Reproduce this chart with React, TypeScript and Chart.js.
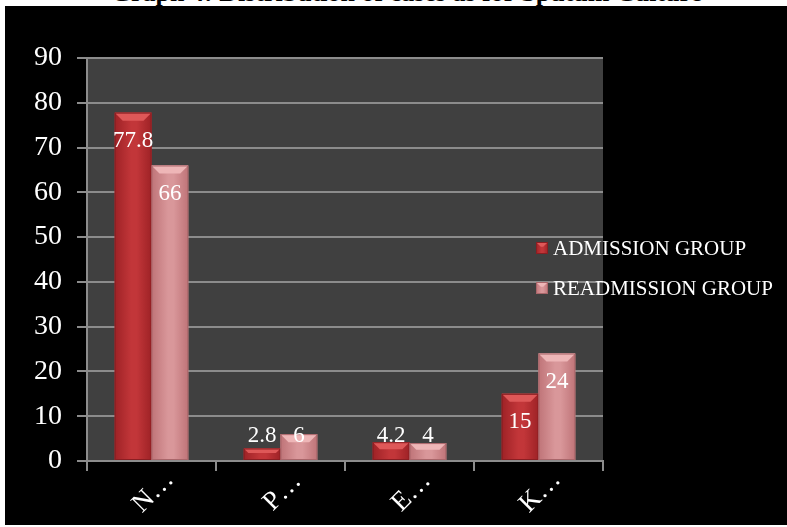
import React, { useEffect, useRef } from 'react';
import { Chart, registerables } from 'chart.js';

Chart.register(...registerables);

const titleText = 'Graph 4: Distribution of cases as for Sputum Culture';
const categories = ['N…', 'P…', 'E…', 'K…'];
const seriesNames = ['ADMISSION GROUP', 'READMISSION GROUP'];
const admission = [77.8, 2.8, 4.2, 15];
const readmission = [66, 6, 4, 24];
const yMax = 90;
const yStep = 10;

const FONT = "'Liberation Serif', 'Times New Roman', serif";
const GRID = '#8c8c8c';

const palettes = [
  { edge: '#9e2226', mid: '#c23639', top: '#de5858', border: '#8a1e22' },
  { edge: '#bf7478', mid: '#d9979a', top: '#eeb6b7', border: '#a9666a' },
];

function shadeBar(ctx: CanvasRenderingContext2D, x: number, y: number, base: number, w: number, p: any) {
  const left = x - w / 2;
  const right = x + w / 2;
  const top = Math.min(y, base);
  const h = Math.abs(base - y);
  if (h <= 0) return;
  const g = ctx.createLinearGradient(left, 0, right, 0);
  g.addColorStop(0, p.edge);
  g.addColorStop(0.45, p.mid);
  g.addColorStop(0.6, p.mid);
  g.addColorStop(1, p.edge);
  ctx.fillStyle = g;
  ctx.fillRect(left, top, w, h);
  const b = Math.min(8, h * 0.4);
  ctx.fillStyle = p.top;
  ctx.beginPath();
  ctx.moveTo(left, top);
  ctx.lineTo(right, top);
  ctx.lineTo(right - b, top + b);
  ctx.lineTo(left + b, top + b);
  ctx.closePath();
  ctx.fill();
  ctx.strokeStyle = p.border;
  ctx.lineWidth = 1;
  ctx.strokeRect(left + 0.5, top + 0.5, w - 1, h - 1);
}

const decor = {
  id: 'decor',
  beforeDraw(chart: any) {
    const { ctx, chartArea: a } = chart;
    ctx.save();
    ctx.fillStyle = '#404040';
    ctx.fillRect(a.left, a.top, a.right - a.left, a.bottom - a.top);
    ctx.restore();
  },
  afterDatasetsDraw(chart: any) {
    const { ctx } = chart;
    ctx.save();
    chart.data.datasets.forEach((ds: any, di: number) => {
      const meta = chart.getDatasetMeta(di);
      meta.data.forEach((el: any, i: number) => {
        const { x, y, base, width } = el.getProps(['x', 'y', 'base', 'width'], true);
        shadeBar(ctx, x, y, base, width, palettes[di]);
        const ly = Math.min(y + 28, base - 24);
        ctx.fillStyle = '#ffffff';
        ctx.font = `23px ${FONT}`;
        ctx.textAlign = 'center';
        ctx.textBaseline = 'middle';
        ctx.fillText(String(ds.data[i]), x, ly);
      });
    });
    ctx.restore();
  },
  afterDraw(chart: any) {
    const { ctx } = chart;
    const xs = chart.scales.x;
    ctx.save();
    ctx.fillStyle = '#ffffff';
    ctx.font = `27px ${FONT}`;
    ctx.textAlign = 'center';
    ctx.textBaseline = 'middle';
    categories.forEach((c, i) => {
      const cx = xs.getPixelForValue(i) + 2;
      ctx.save();
      ctx.translate(cx, 486);
      ctx.rotate(-Math.PI / 4);
      ctx.fillText(c, 0, 0);
      ctx.restore();
    });
    // legend
    const rows = [242, 282];
    seriesNames.forEach((name, i) => {
      const p = palettes[i];
      const my = rows[i] - 6;
      shadeBar(ctx, 537, my, my + 12, 12, p);
      ctx.fillStyle = '#ffffff';
      ctx.font = `21px ${FONT}`;
      ctx.textAlign = 'left';
      ctx.textBaseline = 'middle';
      ctx.fillText(name, 548, rows[i] + 1);
    });
    ctx.restore();
  },
};

export default function App() {
  const ref = useRef<HTMLCanvasElement>(null);
  useEffect(() => {
    if (!ref.current) return;
    const chart = new Chart(ref.current, {
      type: 'bar',
      data: {
        labels: categories,
        datasets: [
          { label: seriesNames[0], data: admission, backgroundColor: palettes[0].mid, categoryPercentage: 0.57, barPercentage: 1 },
          { label: seriesNames[1], data: readmission, backgroundColor: palettes[1].mid, categoryPercentage: 0.57, barPercentage: 1 },
        ],
      },
      options: {
        animation: false,
        responsive: false,
        maintainAspectRatio: false,
        devicePixelRatio: 1,
        layout: { padding: { top: 52, right: 184, left: 0, bottom: 0 } },
        plugins: { legend: { display: false }, tooltip: { enabled: false }, title: { display: false } },
        scales: {
          x: {
            grid: { display: true, drawOnChartArea: false, drawTicks: true, tickLength: 10, color: GRID, lineWidth: 2, offset: true },
            border: { display: true, color: GRID, width: 2 },
            ticks: { display: false },
            afterFit: (s: any) => { s.height = 64; },
          },
          y: {
            min: 0,
            max: yMax,
            ticks: { stepSize: yStep, color: '#ffffff', font: { family: FONT, size: 28 }, padding: 15 },
            grid: { color: GRID, lineWidth: 2, tickLength: 10, drawTicks: true },
            border: { display: true, color: GRID, width: 2 },
            afterFit: (s: any) => { s.width = 82; },
          },
        },
      },
      plugins: [decor],
    } as any);
    return () => chart.destroy();
  }, []);
  return (
    <div style={{ position: 'fixed', left: 0, top: 0, width: 787, height: 527, background: '#ffffff', overflow: 'hidden' }}>
      <div style={{ position: 'absolute', left: 0, top: -20, width: 813, textAlign: 'center', whiteSpace: 'nowrap', font: `bold 26px ${FONT}`, lineHeight: '26px', color: '#000000' }}>
        {titleText}
      </div>
      <canvas ref={ref} width={782} height={519} style={{ position: 'absolute', left: 5, top: 6, width: 782, height: 519, background: '#000000' }} />
    </div>
  );
}
